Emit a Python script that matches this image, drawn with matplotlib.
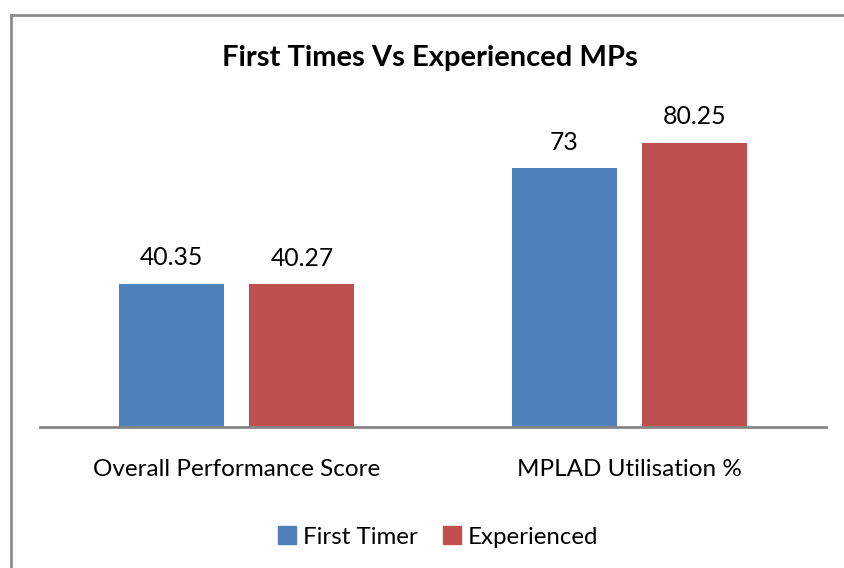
import matplotlib
matplotlib.use("Agg")
import matplotlib.pyplot as plt
import numpy as np
from matplotlib.lines import Line2D
from matplotlib.patches import Patch

categories = ["Overall Performance Score", "MPLAD Utilisation %"]
series_names = ["First Timer", "Experienced"]
first_timer = [40.35, 73]
experienced = [40.27, 80.25]
value_labels_first = ["40.35", "73"]
value_labels_exp = ["40.27", "80.25"]
colors = ["#4F81BD", "#C0504D"]

plt.rcParams['font.family'] = ['Lato', 'DejaVu Sans']

W, H = 844, 568
fig = plt.figure(figsize=(W/100, H/100), dpi=100)
ax = fig.add_axes([40/W, 141/H, 786/W, 319/H])

x = np.arange(len(categories))
bw = 0.267
off = 0.1665
b1 = ax.bar(x - off, first_timer, bw, color=colors[0], label=series_names[0])
b2 = ax.bar(x + off, experienced, bw, color=colors[1], label=series_names[1])
for bars, labs in ((b1, value_labels_first), (b2, value_labels_exp)):
    for r, t in zip(bars, labs):
        ax.annotate(t, (r.get_x() + r.get_width()/2, r.get_height()),
                    xytext=(0, 10.5), textcoords="offset points",
                    ha="center", va="bottom", fontsize=17.8, color="#000000")

ax.set_xlim(-0.5, 1.5)
ax.set_ylim(0, 90)
ax.set_yticks([])
ax.set_xticks(x)
ax.set_xticklabels(categories, fontsize=17.5)
ax.tick_params(axis='x', length=0, pad=23)
for s in ["top", "right", "left"]:
    ax.spines[s].set_visible(False)
ax.spines["bottom"].set_color("#868686")
ax.spines["bottom"].set_linewidth(2)

fig.text(430/W, 1 - 58/H, "First Times Vs Experienced MPs", ha="center", va="center",
         fontsize=21, fontweight="bold")

handles = [Patch(color=colors[0]), Patch(color=colors[1])]
fig.legend(handles, series_names, loc="center", bbox_to_anchor=(438/W, 1 - 537/H),
           ncol=2, frameon=False, fontsize=17.3, handlelength=0.75, handleheight=0.75,
           handletextpad=0.3, columnspacing=1.05)

fig.add_artist(Line2D([11/W, 11/W], [0, 1 - 15/H], color="#8c8c8c", lw=2))
fig.add_artist(Line2D([11/W, 1], [1 - 15/H, 1 - 15/H], color="#8c8c8c", lw=2))

fig.savefig("out.png", dpi=100)
